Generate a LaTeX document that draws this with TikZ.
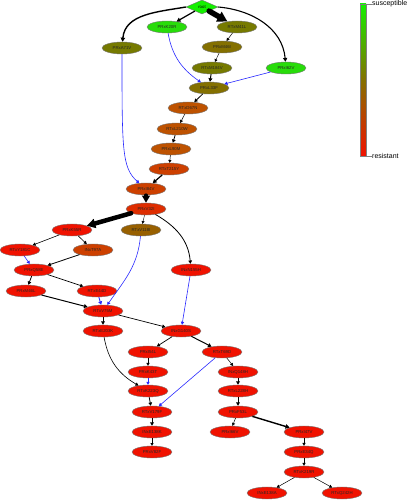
\documentclass[tikz,border=0pt]{standalone}
\usepackage{fontspec}
\setmainfont{Liberation Sans}
\usetikzlibrary{shapes.geometric,arrows.meta}
\definecolor{cRoot}{RGB}{20,240,0}
\definecolor{cGreen}{RGB}{40,220,10}
\definecolor{cOlive}{RGB}{118,122,0}
\definecolor{cOliveB}{RGB}{132,112,0}
\definecolor{cBrown}{RGB}{152,96,0}
\definecolor{cOrA}{RGB}{190,82,0}
\definecolor{cOrB}{RGB}{205,64,0}
\definecolor{cOrC}{RGB}{222,45,0}
\definecolor{cRed}{RGB}{240,18,0}
\definecolor{cBlue}{RGB}{40,40,255}
\tikzset{
  mut/.style={ellipse, draw=black!55, line width=0.4pt, minimum width=40pt, minimum height=12pt, inner sep=0pt, font=\fontsize{4.3}{5}\selectfont, text=black!85},
  rootnode/.style={diamond, draw=black!55, fill=cRoot, line width=0.4pt, minimum width=32pt, minimum height=14pt, inner sep=0pt, aspect=2.3, font=\fontsize{4.3}{5}\selectfont},
  arr/.style={-{Triangle[length=2.2pt 1.4, width=2.4pt 1.5]}, line width=#1, black},
  arr/.default=0.6pt,
  barr/.style={-{Triangle[length=2.2pt 1.4, width=2.4pt 1.5]}, line width=#1, cBlue},
  barr/.default=0.6pt,
  legendtxt/.style={font=\fontsize{7}{8}\selectfont, anchor=west, inner sep=0pt}
}
\begin{document}
\begin{tikzpicture}[x=1pt,y=-1pt]
\useasboundingbox (0,0) rectangle (418,500);
% nodes
\node[rootnode] (root) at (202,7) {root};
\node[mut, fill=cGreen] (K20R) at (167,27) {PRxK20R};
\node[mut, fill=cOlive] (M41L) at (237,27) {RTxM41L};
\node[mut, fill=cOlive] (A71V) at (122,48) {PRxA71V};
\node[mut, fill=cOliveB] (M46I) at (222,47) {PRxM46I};
\node[mut, fill=cOlive] (M184V) at (212,68) {RTxM184V};
\node[mut, fill=cGreen] (I62V) at (286,68) {PRxI62V};
\node[mut, fill=cOliveB] (L33F) at (209,88) {PRxL33F};
\node[mut, fill=cOrA] (D67N) at (188,108) {RTxD67N};
\node[mut, fill=cOrA] (L210W) at (177,129) {RTxL210W};
\node[mut, fill=cOrA] (L90M) at (171,149) {PRxL90M};
\node[mut, fill=cOrB] (T215Y) at (169,169) {RTxT215Y};
\node[mut, fill=cOrB] (I84V) at (146,189) {PRxI84V};
\node[mut, fill=cOrC] (V32I) at (146,209) {PRxV32I};
\node[mut, fill=cRed] (K55R) at (72,230) {PRxK55R};
\node[mut, fill=cBrown] (V118I) at (141,230) {RTxV118I};
\node[mut, fill=cRed] (Y181C) at (20,250) {RTxY181C};
\node[mut, fill=cOrB] (T97A) at (93,250) {INxT97A};
\node[mut, fill=cRed] (Q58E) at (34,270) {PRxQ58E};
\node[mut, fill=cRed] (N155H) at (191,270) {INxN155H};
\node[mut, fill=cRed] (M46L) at (26,291) {PRxM46L};
\node[mut, fill=cRed] (E44D) at (97,291) {RTxE44D};
\node[mut, fill=cRed] (V75M) at (103,311) {RTxV75M};
\node[mut, fill=cRed] (E203K) at (103,331) {RTxE203K};
\node[mut, fill=cRed] (G140S) at (181,331) {INxG140S};
\node[mut, fill=cRed] (I54L) at (148,352) {PRxI54L};
\node[mut, fill=cRed] (T69D) at (222,352) {RTxT69D};
\node[mut, fill=cRed] (K43T) at (148,372) {PRxK43T};
\node[mut, fill=cRed] (Q148H) at (238,372) {INxQ148H};
\node[mut, fill=cRed] (K223Q) at (148,391) {RTxK223Q};
\node[mut, fill=cRed] (L228H) at (238,391) {RTxL228H};
\node[mut, fill=cRed] (V179F) at (152,412) {RTxV179F};
\node[mut, fill=cRed] (F53L) at (238,412) {PRxF53L};
\node[mut, fill=cRed] (E138K) at (152,432) {INxE138K};
\node[mut, fill=cRed] (I66V) at (230,432) {PRxI66V};
\node[mut, fill=cRed] (V82F) at (152,452) {PRxV82F};
\node[mut, fill=cRed] (I47V) at (304,432) {PRxI47V};
\node[mut, fill=cRed] (E34Q) at (304,452) {PRxE34Q};
\node[mut, fill=cRed] (K219R) at (304,472) {RTxK219R};
\node[mut, fill=cRed] (E138A) at (267,493) {INxE138A};
\node[mut, fill=cRed] (Q242H) at (342,493) {RTxQ242H};
% edges
\draw[arr=1.4pt] (root.west) to[out=190,in=85] (A71V);
\draw[arr=1.2pt] (root) -- (K20R);
\draw[arr=5.5pt, line cap=round] (root) -- (M41L);
\draw[arr=1.1pt] (root.east) to[out=-5,in=95] (I62V);
\draw[arr=0.5pt] (M41L) -- (M46I);
\draw[arr=0.4pt] (M46I) -- (M184V);
\draw[arr=1.0pt] (M184V) -- (L33F);
\draw[barr=0.6pt] (K20R) to[out=-80,in=145] (L33F);
\draw[barr=0.6pt] (I62V) -- (L33F);
\draw[arr=0.8pt] (L33F) -- (D67N);
\draw[arr=0.5pt] (D67N) -- (L210W);
\draw[arr=0.8pt] (L210W) -- (L90M);
\draw[arr=0.5pt] (L90M) -- (T215Y);
\draw[arr=1.2pt] (T215Y) -- (I84V);
\draw[barr=0.6pt] (A71V) .. controls (122,150) and (122,168) .. (I84V);
\draw[arr=3.5pt, line cap=round] (I84V) -- (V32I);
\draw[arr=4.5pt, line cap=round] (V32I) -- (K55R);
\draw[arr=0.4pt] (V32I) -- (V118I);
\draw[arr=0.8pt] (V32I) to[out=-30,in=95] (N155H);
\draw[arr=0.6pt] (K55R) -- (Y181C);
\draw[arr=0.6pt] (K55R) -- (T97A);
\draw[barr=0.6pt] (Y181C) -- (Q58E);
\draw[arr=0.8pt] (T97A) -- (Q58E);
\draw[arr=0.8pt] (Q58E) -- (M46L);
\draw[arr=0.7pt] (Q58E) -- (E44D);
\draw[arr=1.0pt] (M46L) -- (V75M);
\draw[barr=0.9pt] (E44D) -- (V75M);
\draw[barr=0.6pt] (V118I) to[out=-95,in=55] (V75M);
\draw[arr=0.8pt] (V75M) -- (E203K);
\draw[arr=0.7pt] (V75M) -- (G140S);
\draw[barr=0.6pt] (N155H) -- (G140S);
\draw[arr=0.7pt] (G140S) -- (I54L);
\draw[arr=1.0pt] (G140S) -- (T69D);
\draw[arr=0.6pt] (E203K) to[out=-80,in=150] (K223Q);
\draw[arr=0.5pt] (I54L) -- (K43T);
\draw[barr=0.6pt] (K43T) -- (K223Q);
\draw[arr=0.5pt] (T69D) -- (Q148H);
\draw[barr=0.6pt] (T69D) -- (V179F);
\draw[arr=0.9pt] (Q148H) -- (L228H);
\draw[arr=0.8pt] (K223Q) -- (V179F);
\draw[arr=0.8pt] (L228H) -- (F53L);
\draw[arr=0.9pt] (V179F) -- (E138K);
\draw[arr=0.4pt] (E138K) -- (V82F);
\draw[arr=0.5pt] (F53L) -- (I66V);
\draw[arr=1.4pt] (F53L) -- (I47V);
\draw[arr=0.5pt] (I47V) -- (E34Q);
\draw[arr=0.5pt] (E34Q) -- (K219R);
\draw[arr=0.5pt] (K219R) -- (E138A);
\draw[arr=0.5pt] (K219R) -- (Q242H);
% legend
\shade[top color=cRoot, bottom color=cRed, middle color=cOliveB] (360,4) rectangle (366,156);
\draw[black!50, line width=0.4pt] (360,4) rectangle (366,156);
\coordinate (tTop) at (366,4);
\coordinate (tBot) at (366,156);
\node[legendtxt] (lsus) at (372,4) {susceptible};
\node[legendtxt] (lres) at (372,156) {resistant};
\draw[black!50, line width=0.4pt] (tTop) -- (lsus.west);
\draw[black!50, line width=0.4pt] (tBot) -- (lres.west);
\end{tikzpicture}
\end{document}
